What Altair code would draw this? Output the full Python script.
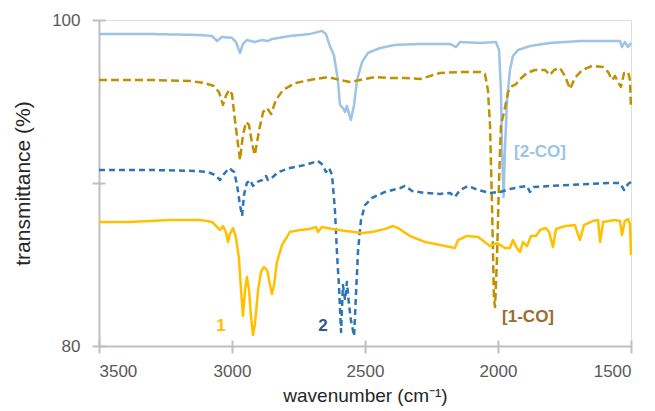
import altair as alt
import pandas as pd

# ---- data ----
w_2co = [3500, 3308, 3120, 3075, 3056, 3038, 3000, 2985, 2970, 2959, 2944, 2914, 2887, 2865, 2850,
         2782, 2707, 2662, 2647, 2632, 2617, 2609, 2602, 2594, 2583, 2575, 2568, 2560, 2553, 2541,
         2530, 2511, 2489, 2444, 2387, 2293, 2180, 2158, 2143, 2068, 2008, 1996, 1989, 1985, 1979,
         1974, 1966, 1955, 1944, 1925, 1880, 1805, 1692, 1560, 1541, 1534, 1523, 1511, 1500]
t_2co = [99.14, 99.14, 99.08, 99.02, 98.71, 98.96, 98.90, 98.65, 97.98, 98.53, 98.77, 98.65, 98.77, 98.71, 98.83,
         99.02, 99.14, 99.33, 99.14, 98.40, 97.85, 97.06, 96.32, 94.79, 94.60, 94.36, 94.72, 94.23, 93.87, 94.79,
         96.32, 97.42, 97.98, 98.28, 98.47, 98.53, 98.53, 98.34, 98.65, 98.59, 98.65, 98.16, 95.71, 92.02, 89.14,
         92.02, 95.09, 96.93, 97.79, 98.16, 98.40, 98.59, 98.71, 98.71, 98.71, 98.34, 98.65, 98.34, 98.59]

w_1co = [3500, 3308, 3158, 3102, 3068, 3049, 3034, 3023, 3011, 3000, 2989, 2977, 2970, 2959, 2947, 2936,
         2925, 2914, 2898, 2883, 2868, 2853, 2835, 2808, 2763, 2688, 2639, 2594, 2556, 2519, 2462, 2406,
         2350, 2293, 2218, 2143, 2068, 2049, 2038, 2030, 2023, 2015, 2011, 2004, 1996, 1989, 1977, 1962,
         1947, 1932, 1917, 1891, 1861, 1823, 1805, 1789, 1767, 1748, 1729, 1711, 1684, 1647, 1605, 1586,
         1571, 1560, 1549, 1538, 1526, 1511, 1504, 1500]
t_1co = [96.32, 96.32, 96.26, 96.13, 95.95, 95.58, 94.79, 95.34, 95.71, 95.46, 93.87, 92.33, 91.41, 92.94, 93.74, 93.56,
         92.45, 91.72, 93.25, 94.36, 94.60, 94.23, 95.09, 95.71, 96.13, 96.38, 96.50, 96.32, 96.20, 96.32, 96.50, 96.44,
         96.44, 96.38, 96.75, 96.81, 96.81, 96.69, 95.71, 93.56, 88.96, 82.82, 82.39, 85.28, 90.18, 93.56, 94.36, 95.58,
         95.95, 96.07, 96.38, 96.75, 96.93, 96.93, 96.63, 96.93, 97.06, 96.56, 95.77, 96.44, 96.93, 97.18, 97.12, 96.81,
         96.32, 96.56, 96.20, 95.89, 96.75, 96.81, 96.32, 94.60]

w_2 = [3500, 3308, 3139, 3090, 3064, 3045, 3030, 3011, 2992, 2981, 2970, 2962, 2955, 2944, 2932, 2921,
       2906, 2887, 2872, 2865, 2850, 2827, 2782, 2726, 2677, 2658, 2647, 2635, 2624, 2613, 2605, 2598,
       2590, 2583, 2575, 2568, 2560, 2553, 2541, 2534, 2526, 2515, 2500, 2474, 2425, 2368, 2350, 2323,
       2274, 2218, 2180, 2162, 2143, 2113, 2075, 2030, 1992, 1955, 1917, 1891, 1880, 1865, 1805, 1729,
       1654, 1579, 1541, 1526, 1511, 1500]
t_2 = [90.80, 90.80, 90.74, 90.67, 90.49, 90.18, 90.55, 90.92, 90.67, 89.88, 88.65, 87.98, 89.26, 90.00, 90.18, 89.82,
       90.06, 90.18, 90.43, 90.18, 90.31, 90.67, 90.92, 91.10, 91.35, 91.10, 90.67, 90.92, 90.49, 88.34, 85.58, 83.74,
       80.86, 83.74, 82.82, 83.93, 82.52, 81.60, 80.61, 83.13, 85.89, 87.73, 88.65, 89.08, 89.45, 89.69, 89.82, 89.51,
       89.39, 89.33, 89.39, 89.14, 89.57, 89.82, 89.57, 89.39, 89.45, 89.63, 89.75, 89.82, 89.45, 89.75, 89.82, 89.88,
       89.94, 90.00, 90.00, 89.57, 89.94, 90.06]

w_1 = [3500, 3383, 3233, 3120, 3075, 3056, 3045, 3034, 3023, 3015, 3008, 2996, 2985, 2974, 2966, 2959,
       2951, 2944, 2936, 2929, 2921, 2914, 2902, 2891, 2880, 2868, 2857, 2850, 2842, 2831, 2812, 2782,
       2744, 2707, 2684, 2677, 2662, 2624, 2575, 2538, 2511, 2474, 2425, 2395, 2376, 2331, 2274, 2218,
       2162, 2150, 2117, 2075, 2030, 2004, 1974, 1955, 1944, 1929, 1917, 1906, 1891, 1876, 1857, 1842,
       1820, 1808, 1793, 1782, 1748, 1711, 1692, 1677, 1643, 1624, 1616, 1605, 1560, 1541, 1534, 1523,
       1511, 1504, 1500]
t_1 = [87.61, 87.61, 87.73, 87.73, 87.61, 87.30, 87.12, 87.36, 86.99, 86.38, 86.87, 87.24, 86.63, 85.40, 83.44, 81.84,
       83.44, 84.23, 83.44, 81.90, 80.67, 81.29, 83.44, 84.54, 84.85, 84.66, 83.74, 83.19, 83.74, 85.15, 86.20, 87.00,
       87.12, 87.18, 87.30, 86.99, 87.30, 87.18, 87.06, 86.99, 86.93, 86.99, 87.18, 87.36, 87.24, 86.75, 86.38, 86.20,
       86.01, 86.50, 86.75, 86.69, 86.13, 86.32, 86.01, 86.01, 86.50, 86.01, 85.77, 86.38, 86.13, 86.75, 86.75, 87.12,
       87.24, 86.99, 86.07, 87.18, 87.36, 87.42, 86.50, 87.42, 87.67, 87.73, 86.38, 87.61, 87.73, 87.67, 86.81, 87.67,
       87.79, 87.48, 85.58]

series_names = ["[2-CO]", "[1-CO]", "2", "1"]
series_colors = ["#9DC3E6", "#BF9000", "#2E75B6", "#FFC000"]
series_dash = [[1, 0], [8, 4], [6, 4], [1, 0]]

label_text = ["1", "2", "[2-CO]", "[1-CO]"]
label_w = [3041, 2658, 1842, 1887]
label_t = [81.23, 81.23, 91.90, 81.78]
label_colors = ["#FFC000", "#2F5597", "#9DC3E6", "#9C6B30"]

x_ticks = [3500, 3000, 2500, 2000, 1500]
y_ticks = [80, 90, 100]

# ---- build table ----
rows = []
for name, ws, ts in zip(series_names, [w_2co, w_1co, w_2, w_1], [t_2co, t_1co, t_2, t_1]):
    for i, (w, t) in enumerate(zip(ws, ts)):
        rows.append({"series": name, "w": w, "t": t, "i": i})
df = pd.DataFrame(rows)
labels = pd.DataFrame({"text": label_text, "w": label_w, "t": label_t, "c": label_colors})

xscale = alt.Scale(domain=[3500, 1500], nice=False, zero=False)
yscale = alt.Scale(domain=[80, 100], nice=False, zero=False)
FONT = "Liberation Sans"
AX = "#BFBFBF"

x_axis = alt.Axis(values=x_ticks, format="d", grid=False, domainColor=AX, domainWidth=2, tickColor=AX, tickWidth=2,
                  tickSize=7, labelFont=FONT, labelFontSize=17, labelColor="#595959", labelPadding=10,
                  title="wavenumber (cm\u207b\u00b9)", titleFont=FONT, titleFontSize=19, titleFontWeight="normal",
                  titleColor="#262626", titlePadding=7, orient="bottom")
y_axis = alt.Axis(values=y_ticks, format="d", grid=False, domainColor=AX, domainWidth=2, tickColor=AX, tickWidth=2,
                  tickSize=7, labelFont=FONT, labelFontSize=17, labelColor="#595959", labelPadding=12,
                  labelExpr="datum.value == 90 ? '' : datum.label",
                  title="transmittance (%)", titleFont=FONT, titleFontSize=21, titleFontWeight="normal",
                  titleColor="#262626", titlePadding=18, orient="left")

lines = alt.Chart(df).mark_line(strokeWidth=2.5, strokeJoin="round").encode(
    x=alt.X("w:Q", scale=xscale, axis=x_axis),
    y=alt.Y("t:Q", scale=yscale, axis=y_axis),
    color=alt.Color("series:N", scale=alt.Scale(domain=series_names, range=series_colors), legend=None),
    strokeDash=alt.StrokeDash("series:N", scale=alt.Scale(domain=series_names, range=series_dash), legend=None),
    order="i:Q",
    detail="series:N",
)

# inner halves of the crossing ticks
x_axis_in = alt.Axis(values=x_ticks, grid=False, domain=False, labels=False, title=None, tickColor=AX,
                     tickWidth=2, tickSize=6, offset=-6, orient="bottom")
y_axis_in = alt.Axis(values=y_ticks, grid=False, domain=False, labels=False, title=None, tickColor=AX,
                     tickWidth=2, tickSize=6, offset=-6, orient="left")
ticks_in = alt.Chart(labels).mark_point(opacity=0).encode(
    x=alt.X("w:Q", scale=xscale, axis=x_axis_in),
    y=alt.Y("t:Q", scale=yscale, axis=y_axis_in),
)

texts = alt.Chart(labels).mark_text(font=FONT, fontSize=17, fontWeight="bold").encode(
    x=alt.X("w:Q", scale=xscale, axis=None),
    y=alt.Y("t:Q", scale=yscale, axis=None),
    text="text:N",
    color=alt.Color("c:N", scale=None),
)

chart = alt.layer(lines, ticks_in, texts).resolve_axis(x="independent", y="independent").properties(
    width=532, height=326,
    padding={"left": 91, "top": 12, "right": 16, "bottom": 62},
    autosize="none",
).configure_view(stroke=None).configure(background="white")

chart.save("out.html", embed_options={"renderer": "svg", "actions": False})
